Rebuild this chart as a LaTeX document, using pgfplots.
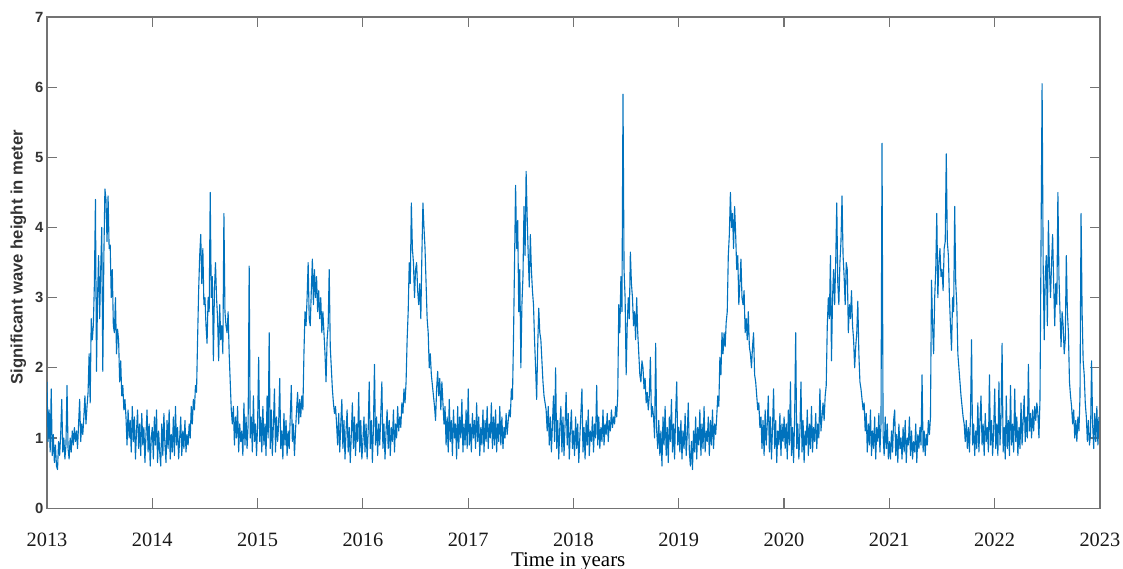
\documentclass[border=0pt]{standalone}
\usepackage{fontspec}
\setmainfont{Liberation Serif}
\newfontfamily\arialfont{Liberation Sans}
\usepackage{pgfplots}
\pgfplotsset{compat=1.18}
\definecolor{mblue}{HTML}{0072BD}
\begin{document}
\begin{tikzpicture}
\begin{axis}[name=ax, scale only axis, width=569pt, height=265.4pt,
 xmin=2013, xmax=2023, ymin=0, ymax=7,
 xtick={2013,2014,...,2023},
 xticklabels={2013,2014,2015,2016,2017,2018,2019,2020,2021,2022,2023},
 ytick={0,1,...,7}, yticklabels={0,1,2,3,4,5,6,7},
 tick align=inside, tick pos=both, major tick length=5.5pt,
 axis line style={black!55, line width=0.6pt},
 every tick/.style={black!55, line width=0.6pt},
 x tick label style={font=\fontsize{11}{13}\selectfont, anchor=base, yshift=-20.5pt, text=black!90},
 y tick label style={font=\arialfont\bfseries\fontsize{8}{10}\selectfont, text=black!80, xshift=1.5pt},
 xlabel={Time in years}, ylabel={Significant wave height in meter},
 xlabel style={font=\fontsize{11.3}{13}\selectfont, at={(rel axis cs:0.495,0)}, anchor=base, yshift=-31.3pt},
 ylabel style={font=\arialfont\bfseries\fontsize{9}{11}\selectfont, text=black!80, at={(rel axis cs:-0.0135,0.511)}, anchor=south},
]
\addplot[mblue, line width=0.6pt, line join=round] coordinates {
(2013.00,1.80)(2013.01,0.95)(2013.02,1.40)(2013.03,0.80)(2013.04,1.70)(2013.05,0.75)(2013.06,1.05)(2013.07,0.65)(2013.08,0.90)(2013.09,0.60)
(2013.10,0.55)(2013.11,0.95)(2013.12,0.75)(2013.13,1.05)(2013.14,1.55)(2013.15,0.80)(2013.16,1.00)(2013.17,0.70)(2013.18,0.90)(2013.19,1.75)
(2013.20,0.85)(2013.21,0.70)(2013.22,1.00)(2013.23,0.80)(2013.24,1.10)(2013.25,0.90)(2013.26,1.15)(2013.27,0.95)(2013.28,1.10)(2013.29,0.85)
(2013.30,1.20)(2013.31,1.55)(2013.32,0.95)(2013.33,1.20)(2013.34,1.05)(2013.35,1.30)(2013.36,1.60)(2013.37,1.20)(2013.38,1.45)(2013.39,1.65)
(2013.40,2.20)(2013.41,1.50)(2013.42,2.70)(2013.43,2.40)(2013.44,2.60)(2013.45,3.20)(2013.46,4.40)(2013.47,1.95)(2013.48,3.00)(2013.49,3.60)
(2013.50,2.70)(2013.51,3.40)(2013.52,4.00)(2013.53,1.95)(2013.54,3.60)(2013.55,4.55)(2013.56,4.40)(2013.57,3.80)(2013.58,4.45)(2013.59,3.70)
(2013.60,3.75)(2013.61,3.00)(2013.62,3.40)(2013.63,2.60)(2013.64,2.50)(2013.65,3.00)(2013.66,2.20)(2013.67,2.55)(2013.68,2.40)(2013.69,1.80)
(2013.70,2.10)(2013.71,1.60)(2013.72,1.75)(2013.73,1.40)(2013.74,1.55)(2013.75,1.30)(2013.76,0.90)(2013.77,1.40)(2013.78,1.00)(2013.79,1.25)
(2013.80,0.80)(2013.81,1.45)(2013.82,0.95)(2013.83,1.30)(2013.84,0.70)(2013.85,1.10)(2013.86,1.40)(2013.87,0.85)(2013.88,1.20)(2013.89,0.75)
(2013.90,1.35)(2013.91,0.90)(2013.92,1.15)(2013.93,0.65)(2013.94,1.05)(2013.95,1.40)(2013.96,0.80)(2013.97,1.20)(2013.98,0.60)(2013.99,1.00)
(2014.00,1.15)(2014.01,0.70)(2014.02,1.30)(2014.03,0.90)(2014.04,1.40)(2014.05,0.65)(2014.06,1.10)(2014.07,0.80)(2014.08,0.60)(2014.09,1.20)
(2014.10,0.75)(2014.11,1.35)(2014.12,0.90)(2014.13,0.65)(2014.14,1.25)(2014.15,0.85)(2014.16,1.40)(2014.17,0.70)(2014.18,1.05)(2014.19,0.80)
(2014.20,1.30)(2014.21,0.75)(2014.22,1.45)(2014.23,0.90)(2014.24,1.15)(2014.25,0.70)(2014.26,1.00)(2014.27,1.30)(2014.28,0.75)(2014.29,1.10)
(2014.30,0.85)(2014.31,1.25)(2014.32,0.80)(2014.33,1.05)(2014.34,0.90)(2014.35,1.20)(2014.36,1.00)(2014.37,1.45)(2014.38,1.20)(2014.39,1.55)
(2014.40,1.40)(2014.41,1.75)(2014.42,1.65)(2014.43,2.40)(2014.44,3.10)(2014.45,3.60)(2014.46,3.90)(2014.47,3.20)(2014.48,3.70)(2014.49,2.90)
(2014.50,3.00)(2014.51,2.60)(2014.52,2.35)(2014.53,3.00)(2014.54,2.80)(2014.55,4.50)(2014.56,3.00)(2014.57,3.30)(2014.58,2.10)(2014.59,3.10)
(2014.60,3.50)(2014.61,3.00)(2014.62,2.70)(2014.63,2.10)(2014.64,2.90)(2014.65,2.40)(2014.66,2.60)(2014.67,2.20)(2014.68,4.20)(2014.69,2.80)
(2014.70,2.60)(2014.71,2.50)(2014.72,2.80)(2014.73,2.20)(2014.74,1.80)(2014.75,1.40)(2014.76,1.20)(2014.77,1.45)(2014.78,0.90)(2014.79,1.30)
(2014.80,1.00)(2014.81,1.45)(2014.82,0.80)(2014.83,1.20)(2014.84,0.95)(2014.85,1.10)(2014.86,0.75)(2014.87,1.50)(2014.88,0.90)(2014.89,1.30)
(2014.90,0.85)(2014.91,1.20)(2014.92,3.45)(2014.93,1.00)(2014.94,1.30)(2014.95,0.80)(2014.96,1.60)(2014.97,0.95)(2014.98,1.20)(2014.99,0.75)
(2015.00,1.20)(2015.01,2.15)(2015.02,0.95)(2015.03,1.30)(2015.04,0.80)(2015.05,1.45)(2015.06,0.90)(2015.07,1.20)(2015.08,0.75)(2015.09,1.60)
(2015.10,1.00)(2015.11,2.50)(2015.12,0.85)(2015.13,1.40)(2015.14,0.75)(2015.15,1.20)(2015.16,1.70)(2015.17,0.80)(2015.18,1.30)(2015.19,0.95)
(2015.20,1.20)(2015.21,1.85)(2015.22,0.85)(2015.23,1.10)(2015.24,0.70)(2015.25,1.35)(2015.26,0.90)(2015.27,1.25)(2015.28,0.75)(2015.29,1.10)
(2015.30,0.85)(2015.31,1.30)(2015.32,1.75)(2015.33,0.95)(2015.34,1.20)(2015.35,0.75)(2015.36,1.10)(2015.37,1.40)(2015.38,1.65)(2015.39,1.20)
(2015.40,1.55)(2015.41,1.30)(2015.42,1.60)(2015.43,1.40)(2015.44,2.20)(2015.45,2.80)(2015.46,2.60)(2015.47,3.00)(2015.48,3.50)(2015.49,2.70)
(2015.50,2.60)(2015.51,3.10)(2015.52,3.55)(2015.53,2.90)(2015.54,3.40)(2015.55,3.00)(2015.56,3.30)(2015.57,2.80)(2015.58,3.10)(2015.59,2.70)
(2015.60,3.00)(2015.61,2.50)(2015.62,2.80)(2015.63,2.50)(2015.64,2.20)(2015.65,1.80)(2015.66,2.40)(2015.67,2.60)(2015.68,3.40)(2015.69,2.30)
(2015.70,2.00)(2015.71,1.70)(2015.72,1.50)(2015.73,1.35)(2015.74,1.45)(2015.75,1.20)(2015.76,0.90)(2015.77,1.35)(2015.78,0.80)(2015.79,1.20)
(2015.80,1.55)(2015.81,0.85)(2015.82,1.25)(2015.83,0.70)(2015.84,1.10)(2015.85,1.40)(2015.86,0.80)(2015.87,1.15)(2015.88,0.65)(2015.89,1.05)
(2015.90,1.50)(2015.91,0.85)(2015.92,1.30)(2015.93,0.75)(2015.94,1.20)(2015.95,0.95)(2015.96,1.65)(2015.97,0.80)(2015.98,1.25)(2015.99,0.70)
(2016.00,0.95)(2016.01,1.30)(2016.02,0.80)(2016.03,1.20)(2016.04,0.70)(2016.05,1.10)(2016.06,1.80)(2016.07,0.85)(2016.08,1.25)(2016.09,0.65)
(2016.10,1.15)(2016.11,2.05)(2016.12,0.90)(2016.13,1.30)(2016.14,0.75)(2016.15,1.20)(2016.16,0.90)(2016.17,1.35)(2016.18,1.80)(2016.19,0.85)
(2016.20,1.20)(2016.21,0.70)(2016.22,1.10)(2016.23,1.40)(2016.24,0.85)(2016.25,1.25)(2016.26,0.75)(2016.27,1.15)(2016.28,0.95)(2016.29,1.40)
(2016.30,0.80)(2016.31,1.20)(2016.32,1.00)(2016.33,1.45)(2016.34,1.10)(2016.35,1.30)(2016.36,1.15)(2016.37,1.50)(2016.38,1.35)(2016.39,1.70)
(2016.40,1.50)(2016.41,1.80)(2016.42,2.40)(2016.43,2.80)(2016.44,3.50)(2016.45,3.20)(2016.46,4.35)(2016.47,3.70)(2016.48,3.50)(2016.49,3.00)
(2016.50,3.40)(2016.51,3.50)(2016.52,3.10)(2016.53,2.90)(2016.54,3.20)(2016.55,2.70)(2016.56,3.60)(2016.57,4.35)(2016.58,4.00)(2016.59,3.70)
(2016.60,3.20)(2016.61,2.70)(2016.62,2.50)(2016.63,2.00)(2016.64,2.20)(2016.65,1.90)(2016.66,1.75)(2016.67,1.60)(2016.68,1.45)(2016.69,1.25)
(2016.70,1.70)(2016.71,1.95)(2016.72,1.60)(2016.73,1.85)(2016.74,1.40)(2016.75,1.80)(2016.76,1.50)(2016.77,1.20)(2016.78,1.45)(2016.79,0.90)
(2016.80,1.30)(2016.81,0.80)(2016.82,1.55)(2016.83,0.95)(2016.84,1.25)(2016.85,0.75)(2016.86,1.40)(2016.87,1.00)(2016.88,1.20)(2016.89,0.70)
(2016.90,1.45)(2016.91,0.85)(2016.92,1.30)(2016.93,1.00)(2016.94,1.55)(2016.95,0.80)(2016.96,1.20)(2016.97,0.90)(2016.98,1.40)(2016.99,0.85)
(2017.00,1.70)(2017.01,0.90)(2017.02,1.20)(2017.03,0.80)(2017.04,1.35)(2017.05,1.00)(2017.06,1.25)(2017.07,0.85)(2017.08,1.50)(2017.09,0.95)
(2017.10,1.30)(2017.11,0.75)(2017.12,1.15)(2017.13,0.90)(2017.14,1.40)(2017.15,0.80)(2017.16,1.25)(2017.17,0.95)(2017.18,1.45)(2017.19,0.85)
(2017.20,1.20)(2017.21,1.00)(2017.22,1.50)(2017.23,0.85)(2017.24,1.30)(2017.25,0.90)(2017.26,1.40)(2017.27,0.80)(2017.28,1.20)(2017.29,0.95)
(2017.30,1.45)(2017.31,0.90)(2017.32,1.30)(2017.33,0.85)(2017.34,1.15)(2017.35,1.00)(2017.36,1.35)(2017.37,1.05)(2017.38,1.25)(2017.39,1.40)
(2017.40,1.30)(2017.41,1.70)(2017.42,1.55)(2017.43,2.40)(2017.44,3.50)(2017.45,4.60)(2017.46,3.70)(2017.47,4.10)(2017.48,2.80)(2017.49,3.40)
(2017.50,2.00)(2017.51,2.90)(2017.52,3.30)(2017.53,4.30)(2017.54,3.60)(2017.55,4.80)(2017.56,4.15)(2017.57,3.60)(2017.58,3.15)(2017.59,3.90)
(2017.60,3.40)(2017.61,3.10)(2017.62,2.90)(2017.63,2.40)(2017.64,2.00)(2017.65,1.55)(2017.66,2.30)(2017.67,2.85)(2017.68,2.50)(2017.69,2.40)
(2017.70,2.10)(2017.71,1.80)(2017.72,1.60)(2017.73,1.50)(2017.74,1.40)(2017.75,1.10)(2017.76,1.45)(2017.77,0.90)(2017.78,1.30)(2017.79,0.80)
(2017.80,1.20)(2017.81,1.60)(2017.82,0.95)(2017.83,2.00)(2017.84,0.85)(2017.85,1.25)(2017.86,0.70)(2017.87,1.15)(2017.88,1.45)(2017.89,0.80)
(2017.90,1.30)(2017.91,0.75)(2017.92,1.20)(2017.93,1.65)(2017.94,0.90)(2017.95,1.35)(2017.96,0.70)(2017.97,1.10)(2017.98,1.40)(2017.99,0.85)
(2018.00,1.10)(2018.01,0.75)(2018.02,1.30)(2018.03,0.85)(2018.04,1.20)(2018.05,0.65)(2018.06,1.00)(2018.07,1.35)(2018.08,1.70)(2018.09,0.80)
(2018.10,1.15)(2018.11,0.70)(2018.12,1.25)(2018.13,0.90)(2018.14,1.40)(2018.15,0.75)(2018.16,1.10)(2018.17,0.95)(2018.18,1.30)(2018.19,0.80)
(2018.20,1.20)(2018.21,1.00)(2018.22,1.75)(2018.23,0.90)(2018.24,1.30)(2018.25,0.85)(2018.26,1.15)(2018.27,0.95)(2018.28,1.40)(2018.29,0.90)
(2018.30,1.20)(2018.31,1.05)(2018.32,1.35)(2018.33,0.95)(2018.34,1.25)(2018.35,1.10)(2018.36,1.40)(2018.37,1.15)(2018.38,1.30)(2018.39,1.20)
(2018.40,1.45)(2018.41,1.30)(2018.42,1.60)(2018.43,2.90)(2018.44,2.50)(2018.45,3.30)(2018.46,2.80)(2018.47,5.90)(2018.48,3.40)(2018.49,3.00)
(2018.50,1.90)(2018.51,2.60)(2018.52,3.00)(2018.53,2.70)(2018.54,3.65)(2018.55,3.20)(2018.56,3.00)(2018.57,2.60)(2018.58,2.80)(2018.59,2.40)
(2018.60,3.00)(2018.61,2.50)(2018.62,2.20)(2018.63,1.90)(2018.64,1.80)(2018.65,2.10)(2018.66,2.00)(2018.67,1.70)(2018.68,1.85)(2018.69,1.50)
(2018.70,1.65)(2018.71,1.40)(2018.72,1.60)(2018.73,2.15)(2018.74,1.30)(2018.75,1.45)(2018.76,1.30)(2018.77,1.00)(2018.78,2.35)(2018.79,1.10)
(2018.80,0.85)(2018.81,1.25)(2018.82,0.75)(2018.83,1.10)(2018.84,0.60)(2018.85,1.30)(2018.86,0.90)(2018.87,1.45)(2018.88,0.75)(2018.89,1.15)
(2018.90,0.65)(2018.91,1.30)(2018.92,0.95)(2018.93,1.55)(2018.94,0.80)(2018.95,1.20)(2018.96,0.70)(2018.97,1.35)(2018.98,1.80)(2018.99,0.90)
(2019.00,1.15)(2019.01,0.80)(2019.02,1.25)(2019.03,0.70)(2019.04,1.10)(2019.05,0.85)(2019.06,1.35)(2019.07,0.75)(2019.08,1.05)(2019.09,1.50)
(2019.10,0.80)(2019.11,0.60)(2019.12,0.95)(2019.13,0.55)(2019.14,1.10)(2019.15,0.80)(2019.16,1.30)(2019.17,0.70)(2019.18,1.15)(2019.19,0.90)
(2019.20,1.40)(2019.21,0.75)(2019.22,1.20)(2019.23,0.85)(2019.24,1.45)(2019.25,0.80)(2019.26,1.10)(2019.27,0.95)(2019.28,1.30)(2019.29,0.75)
(2019.30,1.25)(2019.31,0.90)(2019.32,1.40)(2019.33,0.85)(2019.34,1.20)(2019.35,1.05)(2019.36,1.30)(2019.37,1.60)(2019.38,1.45)(2019.39,2.15)
(2019.40,1.90)(2019.41,2.50)(2019.42,2.20)(2019.43,2.50)(2019.44,2.30)(2019.45,2.65)(2019.46,2.80)(2019.47,3.60)(2019.48,3.90)(2019.49,4.50)
(2019.50,4.00)(2019.51,4.20)(2019.52,3.70)(2019.53,4.30)(2019.54,3.90)(2019.55,3.40)(2019.56,3.60)(2019.57,2.90)(2019.58,3.20)(2019.59,3.55)
(2019.60,3.00)(2019.61,2.90)(2019.62,3.10)(2019.63,2.50)(2019.64,2.70)(2019.65,2.40)(2019.66,2.80)(2019.67,2.30)(2019.68,2.20)(2019.69,2.00)
(2019.70,2.30)(2019.71,2.50)(2019.72,1.90)(2019.73,1.80)(2019.74,1.60)(2019.75,1.40)(2019.76,1.50)(2019.77,1.15)(2019.78,1.30)(2019.79,0.85)
(2019.80,1.25)(2019.81,0.75)(2019.82,1.40)(2019.83,0.90)(2019.84,1.20)(2019.85,1.60)(2019.86,0.80)(2019.87,1.30)(2019.88,0.70)(2019.89,1.15)
(2019.90,1.70)(2019.91,0.85)(2019.92,1.25)(2019.93,0.65)(2019.94,1.10)(2019.95,0.90)(2019.96,1.35)(2019.97,0.75)(2019.98,1.20)(2019.99,0.95)
(2020.00,1.30)(2020.01,0.85)(2020.02,1.20)(2020.03,0.70)(2020.04,1.40)(2020.05,0.90)(2020.06,1.80)(2020.07,0.75)(2020.08,1.15)(2020.09,0.65)
(2020.10,1.30)(2020.11,2.50)(2020.12,0.85)(2020.13,1.20)(2020.14,0.70)(2020.15,1.10)(2020.16,1.80)(2020.17,0.80)(2020.18,1.25)(2020.19,0.65)
(2020.20,1.10)(2020.21,0.90)(2020.22,1.40)(2020.23,0.75)(2020.24,1.20)(2020.25,0.85)(2020.26,1.45)(2020.27,0.80)(2020.28,1.15)(2020.29,0.95)
(2020.30,1.35)(2020.31,0.85)(2020.32,1.20)(2020.33,1.00)(2020.34,1.70)(2020.35,1.10)(2020.36,1.30)(2020.37,1.50)(2020.38,1.25)(2020.39,1.60)
(2020.40,1.75)(2020.41,2.60)(2020.42,3.00)(2020.43,2.70)(2020.44,3.60)(2020.45,2.10)(2020.46,3.00)(2020.47,3.40)(2020.48,2.90)(2020.49,3.50)
(2020.50,4.35)(2020.51,3.20)(2020.52,2.90)(2020.53,3.50)(2020.54,3.80)(2020.55,4.45)(2020.56,3.60)(2020.57,3.30)(2020.58,2.90)(2020.59,3.50)
(2020.60,3.40)(2020.61,2.50)(2020.62,2.90)(2020.63,2.70)(2020.64,3.10)(2020.65,2.60)(2020.66,2.40)(2020.67,2.00)(2020.68,2.30)(2020.69,2.50)
(2020.70,2.95)(2020.71,2.20)(2020.72,1.80)(2020.73,1.70)(2020.74,1.55)(2020.75,1.40)(2020.76,1.50)(2020.77,1.10)(2020.78,1.35)(2020.79,0.80)
(2020.80,1.20)(2020.81,0.90)(2020.82,1.40)(2020.83,0.75)(2020.84,1.10)(2020.85,0.85)(2020.86,1.30)(2020.87,0.70)(2020.88,1.15)(2020.89,0.95)
(2020.90,1.35)(2020.91,0.80)(2020.92,1.20)(2020.93,5.20)(2020.94,1.05)(2020.95,0.75)(2020.96,1.30)(2020.97,0.85)(2020.98,1.20)(2020.99,0.70)
(2021.00,0.95)(2021.01,0.70)(2021.02,1.10)(2021.03,0.80)(2021.04,1.25)(2021.05,1.40)(2021.06,0.75)(2021.07,1.05)(2021.08,0.65)(2021.09,1.20)
(2021.10,0.85)(2021.11,1.00)(2021.12,0.70)(2021.13,1.15)(2021.14,0.80)(2021.15,1.25)(2021.16,0.65)(2021.17,1.00)(2021.18,0.90)(2021.19,1.30)
(2021.20,0.75)(2021.21,1.10)(2021.22,0.70)(2021.23,0.95)(2021.24,0.80)(2021.25,1.20)(2021.26,0.65)(2021.27,1.05)(2021.28,0.85)(2021.29,1.15)
(2021.30,0.90)(2021.31,1.90)(2021.32,0.80)(2021.33,1.10)(2021.34,0.75)(2021.35,1.05)(2021.36,0.90)(2021.37,1.25)(2021.38,1.05)(2021.39,1.30)
(2021.40,3.25)(2021.41,2.60)(2021.42,2.20)(2021.43,3.00)(2021.44,3.40)(2021.45,4.20)(2021.46,3.00)(2021.47,3.50)(2021.48,3.70)(2021.49,3.30)
(2021.50,3.40)(2021.51,3.10)(2021.52,3.70)(2021.53,3.80)(2021.54,5.05)(2021.55,3.80)(2021.56,3.60)(2021.57,3.00)(2021.58,2.60)(2021.59,2.25)
(2021.60,3.00)(2021.61,2.80)(2021.62,4.30)(2021.63,3.20)(2021.64,2.90)(2021.65,2.20)(2021.66,2.00)(2021.67,1.80)(2021.68,1.60)(2021.69,1.45)
(2021.70,1.30)(2021.71,1.20)(2021.72,0.95)(2021.73,1.25)(2021.74,0.85)(2021.75,1.15)(2021.76,0.80)(2021.77,1.30)(2021.78,2.40)(2021.79,0.90)
(2021.80,1.20)(2021.81,0.75)(2021.82,1.10)(2021.83,0.85)(2021.84,1.50)(2021.85,0.80)(2021.86,1.25)(2021.87,1.60)(2021.88,0.90)(2021.89,1.20)
(2021.90,0.75)(2021.91,1.35)(2021.92,0.95)(2021.93,1.15)(2021.94,0.80)(2021.95,1.90)(2021.96,0.90)(2021.97,1.25)(2021.98,0.75)(2021.99,1.10)
(2022.00,1.70)(2022.01,0.85)(2022.02,1.20)(2022.03,0.75)(2022.04,1.80)(2022.05,0.90)(2022.06,1.30)(2022.07,2.35)(2022.08,0.80)(2022.09,1.15)
(2022.10,0.70)(2022.11,1.60)(2022.12,0.85)(2022.13,1.25)(2022.14,0.75)(2022.15,1.75)(2022.16,0.90)(2022.17,1.20)(2022.18,0.80)(2022.19,1.70)
(2022.20,0.95)(2022.21,1.30)(2022.22,0.75)(2022.23,1.15)(2022.24,0.85)(2022.25,1.50)(2022.26,0.90)(2022.27,1.25)(2022.28,1.60)(2022.29,0.95)
(2022.30,1.30)(2022.31,1.00)(2022.32,2.05)(2022.33,1.10)(2022.34,1.35)(2022.35,1.00)(2022.36,1.40)(2022.37,1.10)(2022.38,1.45)(2022.39,1.25)
(2022.40,1.50)(2022.41,1.35)(2022.42,1.00)(2022.43,1.55)(2022.44,3.80)(2022.45,6.05)(2022.46,3.50)(2022.47,2.40)(2022.48,3.30)(2022.49,3.60)
(2022.50,2.60)(2022.51,4.10)(2022.52,3.40)(2022.53,3.00)(2022.54,3.50)(2022.55,3.90)(2022.56,3.20)(2022.57,2.60)(2022.58,3.20)(2022.59,2.90)
(2022.60,4.50)(2022.61,3.30)(2022.62,2.80)(2022.63,2.30)(2022.64,2.80)(2022.65,2.60)(2022.66,2.20)(2022.67,2.40)(2022.68,3.60)(2022.69,2.80)
(2022.70,2.50)(2022.71,1.80)(2022.72,1.60)(2022.73,1.45)(2022.74,1.20)(2022.75,1.40)(2022.76,1.00)(2022.77,1.25)(2022.78,0.95)(2022.79,1.30)
(2022.80,1.10)(2022.81,1.60)(2022.82,4.20)(2022.83,2.80)(2022.84,2.10)(2022.85,1.90)(2022.86,1.50)(2022.87,1.30)(2022.88,0.95)(2022.89,1.25)
(2022.90,0.90)(2022.91,1.05)(2022.92,2.10)(2022.93,1.20)(2022.94,0.85)(2022.95,1.35)(2022.96,0.95)(2022.97,1.45)(2022.98,0.90)(2022.99,1.30)
};
\end{axis}
\pgfresetboundingbox
\path[use as bounding box] ([shift={(-25.4pt,-32.43pt)}]ax.south west) rectangle ([shift={(12.43pt,9.19pt)}]ax.north east);
\end{tikzpicture}
\end{document}
